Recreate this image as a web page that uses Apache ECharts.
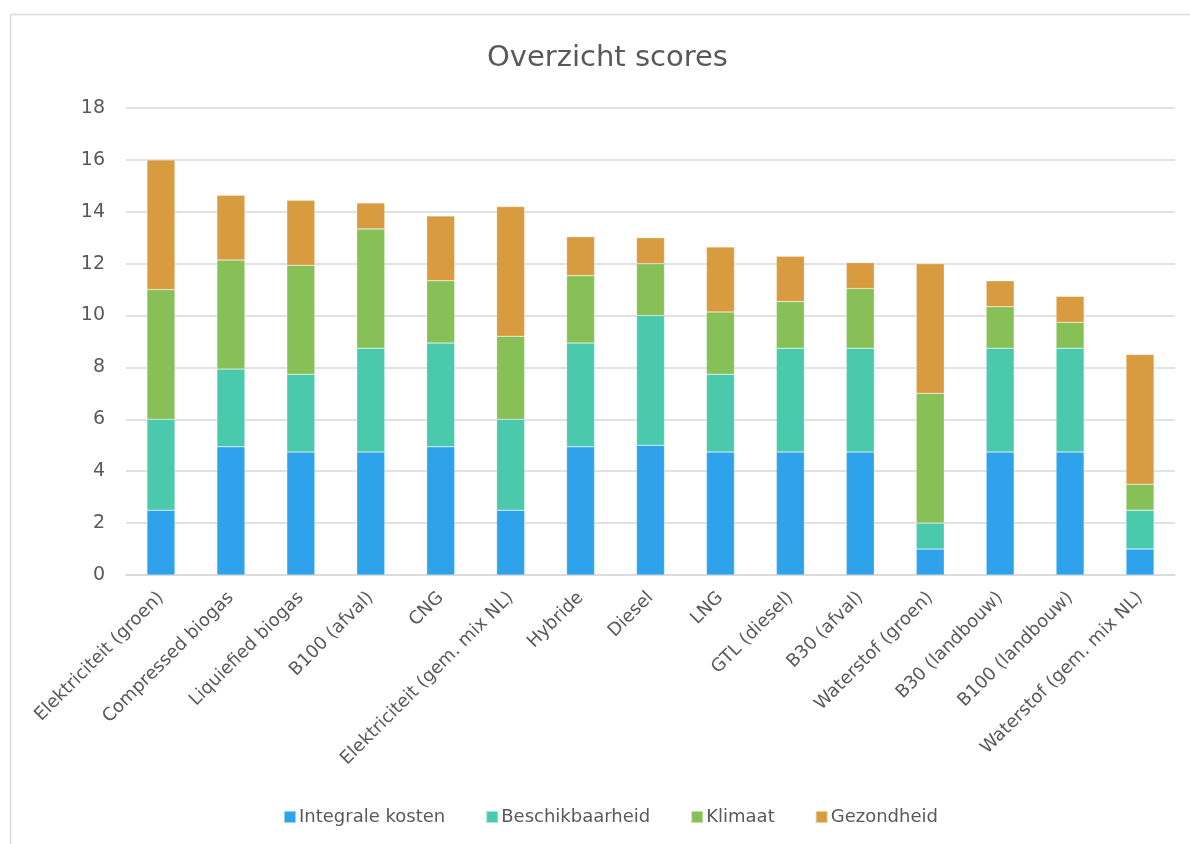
<!DOCTYPE html>
<html>
<head>
<meta charset="utf-8">
<script src="https://cdn.jsdelivr.net/npm/echarts@6/dist/echarts.min.js"></script>
<style>
html,body{margin:0;padding:0;background:#fff;}
#chart{width:1190px;height:844px;}
</style>
</head>
<body>
<div id="chart"></div>
<script>
const categories = ["Elektriciteit (groen)","Compressed biogas","Liquiefied biogas","B100 (afval)","CNG","Elektriciteit (gem. mix NL)","Hybride","Diesel","LNG","GTL (diesel)","B30 (afval)","Waterstof (groen)","B30 (landbouw)","B100 (landbouw)","Waterstof (gem. mix NL)"];
const integraleKosten = [2.5,4.94,4.74,4.74,4.94,2.5,4.94,5,4.74,4.74,4.74,1,4.74,4.74,1];
const beschikbaarheid = [3.5,3,3,4,4,3.5,4,5,3,4,4,1,4,4,1.5];
const klimaat = [5,4.2,4.2,4.6,2.4,3.2,2.6,2,2.4,1.8,2.3,5,1.6,1,1];
const gezondheid = [5,2.5,2.5,1,2.5,5,1.5,1,2.5,1.75,1,5,1,1,5];
const yTicks = [0,2,4,6,8,10,12,14,16,18];

const FONT = "DejaVu Sans";
const TXT = "#595959";
const chart = echarts.init(document.getElementById('chart'), null, {renderer:'canvas'});
function s(name, data, color){
  return {name, type:'bar', stack:'total', data, barWidth:28,
    itemStyle:{color, borderColor:'rgba(255,255,255,0.5)', borderWidth:0.5}};
}
chart.setOption({
  animation:false,
  backgroundColor:'#fff',
  textStyle:{fontFamily:FONT},
  graphic:[
    {type:'line', shape:{x1:10.5,y1:14.5,x2:1190,y2:14.5}, style:{stroke:'#d9d9d9', lineWidth:1.5}, silent:true},
    {type:'line', shape:{x1:10.5,y1:14.5,x2:10.5,y2:844}, style:{stroke:'#d9d9d9', lineWidth:1.5}, silent:true}
  ],
  title:{text:'Overzicht scores', left:482, top:39, textStyle:{fontFamily:FONT, fontSize:29, fontWeight:'normal', color:TXT}},
  legend:{bottom:13, left:278, itemWidth:12, itemHeight:12, itemGap:40, icon:'rect',
    textStyle:{fontFamily:FONT, fontSize:18, color:TXT, padding:[0,0,0,-2]},
    data:['Integrale kosten','Beschikbaarheid','Klimaat','Gezondheid']},
  grid:{left:126, right:15, top:108, bottom:269, containLabel:false},
  xAxis:{type:'category', data:categories,
    axisLine:{lineStyle:{color:'#d9d9d9', width:1.5}}, axisTick:{show:false},
    axisLabel:{rotate:45, interval:0, fontFamily:FONT, fontSize:18, color:TXT, margin:20}},
  yAxis:{type:'value', min:yTicks[0], max:yTicks[yTicks.length-1], interval:2,
    axisLine:{show:false}, axisTick:{show:false},
    splitLine:{lineStyle:{color:'#d9d9d9', width:1.5}},
    axisLabel:{fontFamily:FONT, fontSize:19, color:TXT, margin:21}},
  series:[
    s('Integrale kosten', integraleKosten, '#2EA3EC'),
    s('Beschikbaarheid', beschikbaarheid, '#4BC9AD'),
    s('Klimaat', klimaat, '#87C057'),
    s('Gezondheid', gezondheid, '#D99B3F')
  ]
});
</script>
</body>
</html>
